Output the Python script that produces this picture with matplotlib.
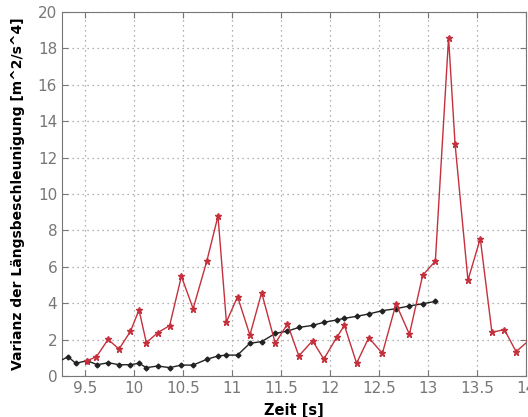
import numpy as np
import matplotlib
matplotlib.use("Agg")
import matplotlib.pyplot as plt

# Zeitpunkte (gemeinsam fuer beide Reihen)
t_black = [9.20, 9.322, 9.40, 9.516, 9.622, 9.734, 9.843, 9.959, 10.047, 10.122,
           10.238, 10.36, 10.48, 10.60, 10.74, 10.854, 10.94, 11.054, 11.18, 11.30,
           11.439, 11.564, 11.68, 11.82, 11.935, 12.067, 12.146, 12.27, 12.394,
           12.534, 12.673, 12.81, 12.945, 13.075]
var_black = [0.72, 1.06, 0.70, 0.84, 0.62, 0.73, 0.62, 0.62, 0.70, 0.46,
             0.55, 0.46, 0.60, 0.60, 0.92, 1.10, 1.15, 1.15, 1.80, 1.89,
             2.34, 2.47, 2.67, 2.78, 2.95, 3.08, 3.17, 3.28, 3.41,
             3.59, 3.70, 3.85, 3.97, 4.10]

t_red = [9.516, 9.612, 9.731, 9.843, 9.959, 10.047, 10.122, 10.238, 10.36, 10.48,
         10.60, 10.74, 10.854, 10.94, 11.054, 11.18, 11.30, 11.439, 11.564, 11.68,
         11.82, 11.935, 12.067, 12.146, 12.27, 12.394, 12.534, 12.673, 12.81,
         12.945, 13.075, 13.21, 13.276, 13.408, 13.534, 13.653, 13.78, 13.90, 14.03]
var_red = [0.84, 1.06, 2.01, 1.48, 2.45, 3.63, 1.83, 2.38, 2.77, 5.48,
           3.70, 6.32, 8.79, 2.97, 4.36, 2.25, 4.58, 1.80, 2.86, 1.10,
           1.94, 0.93, 2.12, 2.78, 0.70, 2.10, 1.25, 3.96, 2.29,
           5.53, 6.32, 18.59, 12.77, 5.27, 7.55, 2.40, 2.55, 1.34, 1.95]

xticks = [9.5, 10, 10.5, 11, 11.5, 12, 12.5, 13, 13.5, 14]
xticklabels = ["9.5", "10", "10.5", "11", "11.5", "12", "12.5", "13", "13.5", "14"]
yticks = [0, 2, 4, 6, 8, 10, 12, 14, 16, 18, 20]

fig = plt.figure(figsize=(5.28, 4.17), dpi=100)
ax = fig.add_axes([0.1174, 0.0983, 0.8786, 0.8727])

ax.plot(t_black, var_black, color="#222222", lw=1.0, marker="D", markersize=2.5,
        zorder=3)
ax.plot(t_red, var_red, color="#c4303c", lw=1.0, marker="*", markersize=4.5,
        zorder=4)

ax.set_xlim(9.26, 14)
ax.set_ylim(0, 20)
ax.set_xticks(xticks)
ax.set_xticklabels(xticklabels)
ax.set_yticks(yticks)
ax.grid(True, linestyle=(0, (1, 3)), color="#999999", lw=0.9)
ax.tick_params(direction="in", top=True, right=True, colors="#777777",
               labelsize=11, length=4)
for s in ax.spines.values():
    s.set_color("#777777")

ax.set_xlabel("Zeit [s]", fontweight="bold", fontsize=10.5, labelpad=5)
ax.set_ylabel("Varianz der Längsbeschleunigung [m^2/s^4]", fontweight="bold",
              fontsize=10, labelpad=9)

fig.savefig("out.png", dpi=100)
